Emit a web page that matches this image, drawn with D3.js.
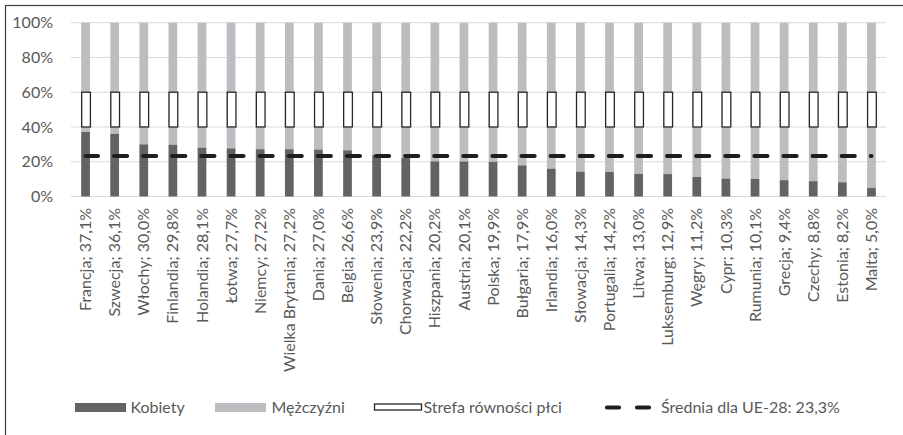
<!DOCTYPE html>
<html><head><meta charset="utf-8">
<script src="https://cdn.jsdelivr.net/npm/d3@7"></script>
<style>html,body{margin:0;padding:0;background:#fff;}svg{display:block;font-family:Lato,"Open Sans",sans-serif;}</style>
</head><body><svg id="c" width="903" height="435"></svg>
<script>
const countries = ["Francja","Szwecja","Włochy","Finlandia","Holandia","Łotwa","Niemcy","Wielka Brytania","Dania","Belgia","Słowenia","Chorwacja","Hiszpania","Austria","Polska","Bułgaria","Irlandia","Słowacja","Portugalia","Litwa","Luksemburg","Węgry","Cypr","Rumunia","Grecja","Czechy","Estonia","Malta"];
const women = [37.1,36.1,30.0,29.8,28.1,27.7,27.2,27.2,27.0,26.6,23.9,22.2,20.2,20.1,19.9,17.9,16.0,14.3,14.2,13.0,12.9,11.2,10.3,10.1,9.4,8.8,8.2,5.0];
const equalityZone = [40, 60];
const euAverage = 23.3;
const yTicks = [0,20,40,60,80,100];
const legendLabels = ["Kobiety","Mężczyźni","Strefa równości płci","Średnia dla UE-28: 23,3%"];

const colWomen = "#636363", colMen = "#bcbdc0", colText = "#595959", colGrid = "#d9d9d9";
const svg = d3.select("#c");
const fmt = v => d3.format(".1f")(v).replace(".", ",");

// frame
svg.append("rect").attr("x",5.5).attr("y",5.5).attr("width",1000).attr("height",1000)
  .attr("fill","none").attr("stroke","#404040").attr("stroke-width",1.2);

const x = d3.scaleBand().domain(countries).range([71,886]).paddingInner(0.7).paddingOuter(0.35);
const y = d3.scaleLinear().domain([0,100]).range([196.5,22.7]);

// grid
svg.append("g").selectAll("line").data(yTicks).join("line")
  .attr("x1",71).attr("x2",886).attr("y1",d=>y(d)).attr("y2",d=>y(d))
  .attr("stroke",colGrid).attr("stroke-width",1);

// y axis labels
svg.append("g").selectAll("text").data(yTicks).join("text")
  .attr("x",53).attr("y",d=>y(d)).attr("dy","0.35em").attr("text-anchor","end")
  .attr("fill",colText).attr("font-size",16).text(d=>d+"%");

const data = countries.map((c,i)=>({c, w:women[i]}));
const bw = x.bandwidth();
// men bars
svg.append("g").selectAll("rect").data(data).join("rect")
  .attr("x",d=>x(d.c)).attr("width",bw).attr("y",y(100)).attr("height",d=>y(d.w)-y(100))
  .attr("fill",colMen);
// women bars
svg.append("g").selectAll("rect").data(data).join("rect")
  .attr("x",d=>x(d.c)).attr("width",bw).attr("y",d=>y(d.w)).attr("height",d=>y(0)-y(d.w))
  .attr("fill",colWomen);
// equality zone boxes
svg.append("g").selectAll("rect").data(data).join("rect")
  .attr("x",d=>x(d.c)+0.5).attr("width",bw).attr("y",y(equalityZone[1])).attr("height",y(equalityZone[0])-y(equalityZone[1]))
  .attr("fill","#fff").attr("stroke","#262626").attr("stroke-width",1.3);

// average dashed line
const cx = d=>x(d.c)+bw/2;
svg.append("path").datum(data)
  .attr("d",d3.line().x(cx).y(()=>y(euAverage)))
  .attr("fill","none").attr("stroke","#1e1e1e").attr("stroke-width",4.2)
  .attr("stroke-linecap","round").attr("stroke-dasharray",`13 ${x.step()-13}`)
  .attr("stroke-dashoffset",0.6);

// category labels
svg.append("g").selectAll("text").data(data).join("text")
  .attr("transform",d=>`translate(${cx(d)},208) rotate(-90)`)
  .attr("dy","0.35em").attr("text-anchor","end").attr("fill",colText).attr("font-size",16)
  .text(d=>`${d.c}; ${fmt(d.w)}%`);

// legend
const lg = svg.append("g").attr("font-size",16).attr("fill",colText);
const ly = 407.5;
lg.append("rect").attr("x",75).attr("y",ly-4.5).attr("width",51).attr("height",9).attr("fill",colWomen);
lg.append("text").attr("x",130.5).attr("y",ly).attr("dy","0.35em").text(legendLabels[0]);
lg.append("rect").attr("x",215).attr("y",ly-4.5).attr("width",51).attr("height",9).attr("fill",colMen);
lg.append("text").attr("x",271.5).attr("y",ly).attr("dy","0.35em").text(legendLabels[1]);
lg.append("rect").attr("x",374.5).attr("y",ly-3.5).attr("width",47).attr("height",6).attr("fill","#fff").attr("stroke","#262626").attr("stroke-width",1.3);
lg.append("text").attr("x",423.5).attr("y",ly).attr("dy","0.35em").text(legendLabels[2]);
lg.append("line").attr("x1",607).attr("x2",649).attr("y1",ly).attr("y2",ly)
  .attr("stroke","#1e1e1e").attr("stroke-width",4.2).attr("stroke-linecap","round").attr("stroke-dasharray","12 18");
lg.append("text").attr("x",661).attr("y",ly).attr("dy","0.35em").text(legendLabels[3]);
</script></body></html>
